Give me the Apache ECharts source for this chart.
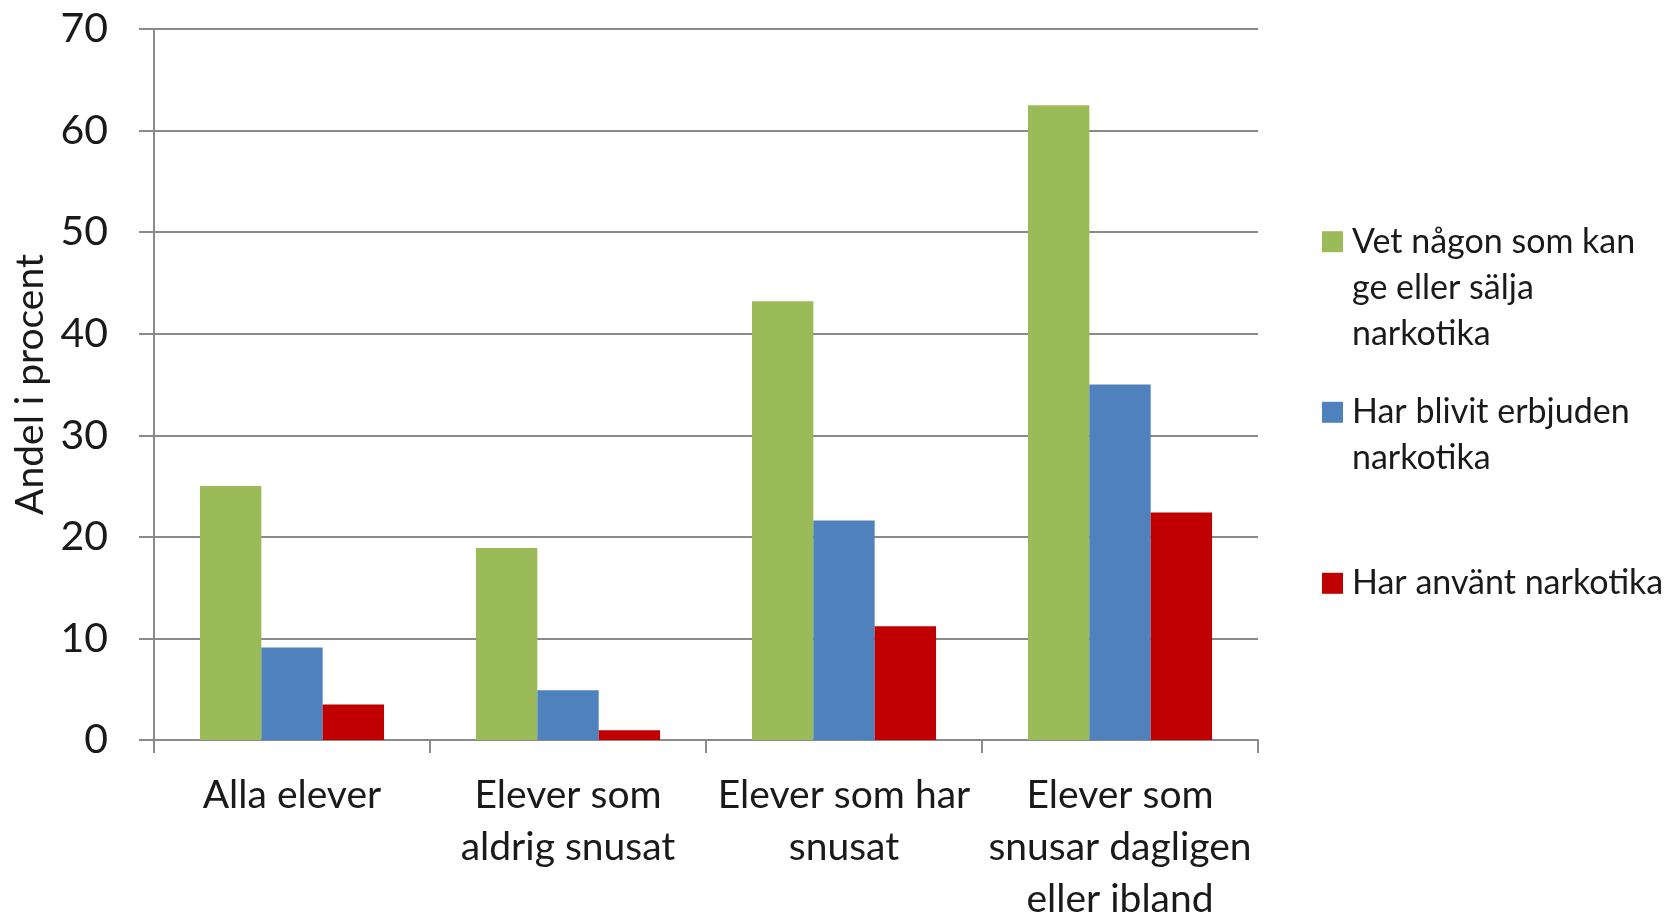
<!DOCTYPE html>
<html>
<head>
<meta charset="utf-8">
<script src="https://cdn.jsdelivr.net/npm/echarts@6/dist/echarts.min.js"></script>
<style>
html,body{margin:0;padding:0;background:#fff;}
#chart{width:1667px;height:916px;}
</style>
</head>
<body>
<div id="chart"></div>
<script>
const categories = ['Alla elever', 'Elever som\naldrig snusat', 'Elever som har\nsnusat', 'Elever som\nsnusar dagligen\neller ibland'];
const seriesNames = ['Vet någon som kan ge eller sälja narkotika', 'Har blivit erbjuden narkotika', 'Har använt narkotika'];
const legendLabels = ['Vet någon som kan\nge eller sälja\nnarkotika', 'Har blivit erbjuden\nnarkotika', 'Har använt narkotika'];
const vetNagon = [25.0, 18.9, 43.2, 62.5];
const erbjuden = [9.1, 4.9, 21.6, 35.0];
const anvant = [3.5, 0.95, 11.2, 22.4];
const yTicks = { min: 0, max: 70, interval: 10 };
const yAxisName = 'Andel i procent';

const colors = ['#9BBB59', '#4F81BD', '#C00000'];
const values = [vetNagon, erbjuden, anvant];
const FONT = 'Lato';
const LH = 46;
const iconCenters = [241.7, 412.3, 583.3];

const chart = echarts.init(document.getElementById('chart'), null, { renderer: 'canvas' });

const legends = seriesNames.map((name, i) => {
  const lines = legendLabels[i].split('\n');
  const n = lines.length;
  return {
    data: [name],
    left: 1322,
    top: iconCenters[i] - (2 * n - 1) * LH / 2,
    padding: 0,
    itemWidth: 21,
    itemHeight: 21,
    icon: 'rect',
    formatter: () => lines.map(l => '{t|' + l + '}').join('\n'),
    textStyle: {
      fontFamily: FONT,
      fontSize: 34,
      color: '#1a1a1a',
      lineHeight: LH,
      padding: [(n - 1) * LH, 0, 0, 4],
      rich: { t: { fontFamily: FONT, fontSize: 34, color: '#1a1a1a', lineHeight: LH } }
    }
  };
});

chart.setOption({
  backgroundColor: '#fff',
  animation: false,
  color: colors,
  legend: legends,
  grid: { left: 154, right: 409, top: 29, bottom: 176, containLabel: false, outerBoundsMode: 'none' },
  xAxis: {
    type: 'category',
    data: categories,
    axisLine: { lineStyle: { color: '#8a8a8a', width: 2 } },
    axisTick: { show: true, length: 13, lineStyle: { color: '#8a8a8a', width: 2 } },
    axisLabel: { interval: 0, fontFamily: FONT, fontSize: 39, color: '#1a1a1a', lineHeight: 52, margin: 29 }
  },
  yAxis: {
    type: 'value',
    min: yTicks.min,
    max: yTicks.max,
    interval: yTicks.interval,
    name: yAxisName,
    nameLocation: 'middle',
    nameGap: 104,
    nameTextStyle: { fontFamily: FONT, fontSize: 39, color: '#1a1a1a' },
    axisLine: { show: true, lineStyle: { color: '#8a8a8a', width: 2 } },
    axisTick: { show: true, length: 15, lineStyle: { color: '#8a8a8a', width: 2 } },
    axisLabel: { fontFamily: FONT, fontSize: 41, color: '#1a1a1a', margin: 46 },
    splitLine: { show: true, lineStyle: { color: '#8a8a8a', width: 2 } }
  },
  series: seriesNames.map((name, i) => ({
    name: name,
    type: 'bar',
    data: values[i],
    barGap: '0%',
    barCategoryGap: '33.3%',
    itemStyle: { color: colors[i] }
  }))
});
</script>
</body>
</html>
